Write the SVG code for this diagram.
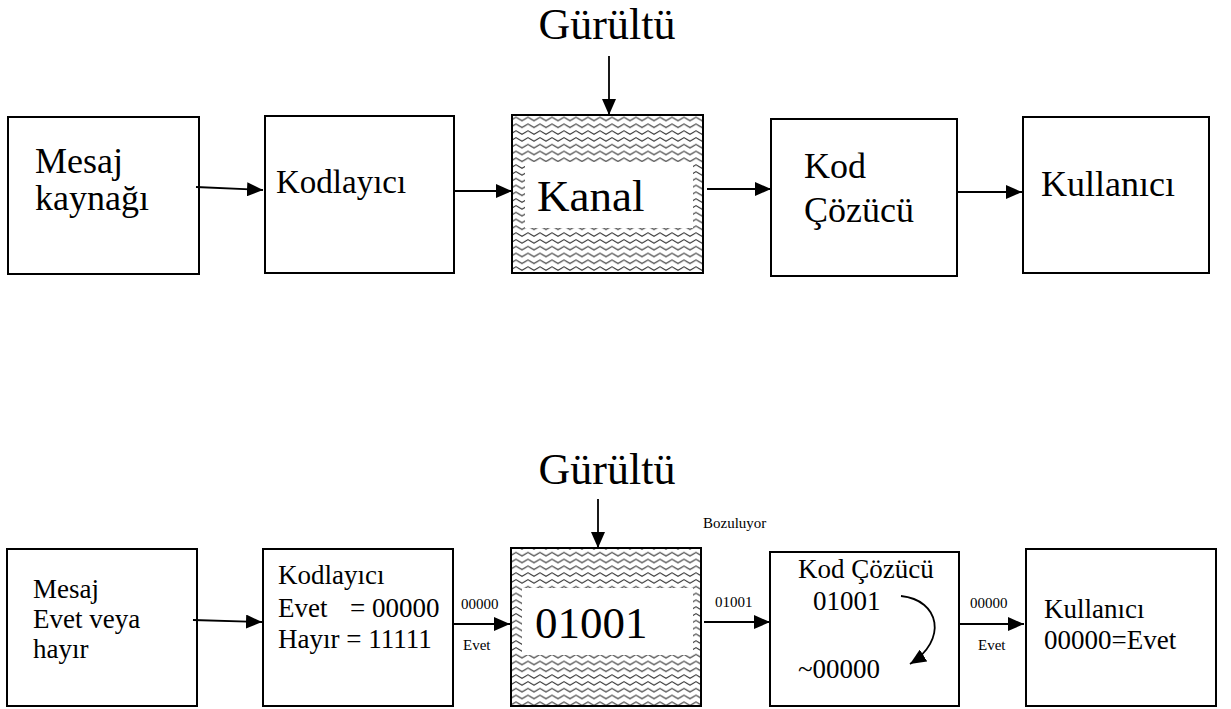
<svg xmlns="http://www.w3.org/2000/svg" width="1231" height="709" viewBox="0 0 1231 709">
<style>
  .box { fill: #fff; stroke: #000; stroke-width: 2; }
  .chan { fill: url(#wave); stroke: #000; stroke-width: 2; }
  .inner { fill: #fff; stroke: none; }
  .big { font-size: 45px; }
  .t36 { font-size: 36px; }
  .t33 { font-size: 33px; }
  .t27 { font-size: 27px; }
  .small { font-size: 15px; }
</style>
<defs>
  <pattern id="wave" patternUnits="userSpaceOnUse" width="12" height="6.8" x="0" y="0">
    <rect width="12" height="6.8" fill="#fff"/>
    <path d="M-3,3.4 L0,1.6 L3,3.4 L6,5.2 L9,3.4 L12,1.6 L15,3.4" fill="none" stroke="#333" stroke-width="1.1" stroke-linejoin="round"/>
  </pattern>
  <marker id="ah" markerUnits="userSpaceOnUse" markerWidth="16" markerHeight="14" refX="16" refY="7" orient="auto">
    <path d="M0,0 L16,7 L0,14 Z" fill="#000"/>
  </marker>
</defs>
<rect width="1231" height="709" fill="#fff"/>

<g font-family="Liberation Serif, Times New Roman, serif" fill="#000">
<g id="label-gurultu-top"><text font-size="44" x="607" y="39" text-anchor="middle">Gürültü</text></g>
<g id="label-gurultu-bottom"><text font-size="44" x="607" y="484" text-anchor="middle">Gürültü</text></g>

<g id="n-mesaj-top">
  <rect class="box" x="8" y="117" width="191" height="157"/>
  <text class="t36" x="35" y="173">Mesaj</text>
  <text class="t36" x="35" y="210">kaynağı</text>
</g>
<g id="n-kodlayici-top">
  <rect class="box" x="265" y="116" width="189" height="157"/>
  <text class="t33" x="276" y="193">Kodlayıcı</text>
</g>
<g id="n-kanal-top">
  <rect class="chan" x="512" y="115" width="191" height="158"/>
  <rect class="inner" x="525" y="162" width="168" height="66"/>
  <text class="big" x="537" y="211">Kanal</text>
</g>
<g id="n-kodcozucu-top">
  <rect class="box" x="771" y="119" width="186" height="157"/>
  <text class="t36" x="804" y="178">Kod</text>
  <text class="t36" x="804" y="222">Çözücü</text>
</g>
<g id="n-kullanici-top">
  <rect class="box" x="1023" y="117" width="186" height="156"/>
  <text class="t36" x="1041" y="196">Kullanıcı</text>
</g>

<g id="n-mesaj-bottom">
  <rect class="box" x="7" y="549" width="190" height="157"/>
  <text class="t27" x="33" y="598">Mesaj</text>
  <text class="t27" x="33" y="628">Evet veya</text>
  <text class="t27" x="33" y="658">hayır</text>
</g>
<g id="n-kodlayici-bottom">
  <rect class="box" x="263" y="549" width="190" height="157"/>
  <text class="t27" x="278" y="584">Kodlayıcı</text>
  <text class="t27" x="278" y="617">Evet<tspan x="350">= 00000</tspan></text>
  <text class="t27" x="278" y="648">Hayır = 11111</text>
</g>
<g id="n-kanal-bottom">
  <rect class="chan" x="511" y="548" width="190" height="158"/>
  <rect class="inner" x="522" y="588" width="171" height="67"/>
  <text class="big" x="535" y="638">01001</text>
</g>
<g id="n-kodcozucu-bottom">
  <rect class="box" x="770" y="552" width="189" height="154"/>
  <text class="t27" x="798" y="578">Kod Çözücü</text>
  <text class="t27" x="813" y="610">01001</text>
  <text class="t27" x="798" y="678">~00000</text>
</g>
<g id="n-kullanici-bottom">
  <rect class="box" x="1026" y="549" width="190" height="157"/>
  <text class="t27" x="1044" y="618">Kullanıcı</text>
  <text class="t27" x="1044" y="649">00000=Evet</text>
</g>

<g id="edge-labels">
  <text class="small" x="461" y="609">00000</text>
  <text class="small" x="463" y="650">Evet</text>
  <text class="small" x="703" y="528">Bozuluyor</text>
  <text class="small" x="715" y="607">01001</text>
  <text class="small" x="970" y="608">00000</text>
  <text class="small" x="978" y="650">Evet</text>
</g>
</g>

<g id="connectors" stroke="#000" stroke-width="1.8" fill="none" marker-end="url(#ah)">
  <line x1="196" y1="187" x2="263" y2="190"/>
  <line x1="455" y1="191" x2="512" y2="191"/>
  <line x1="609" y1="56" x2="609" y2="115"/>
  <line x1="707" y1="189" x2="771" y2="189"/>
  <line x1="958" y1="192" x2="1022" y2="192"/>

  <line x1="193" y1="620" x2="262" y2="622"/>
  <line x1="454" y1="624" x2="510" y2="624"/>
  <line x1="598" y1="499" x2="598" y2="548"/>
  <line x1="704" y1="622" x2="770" y2="622"/>
  <line x1="960" y1="624" x2="1024" y2="624"/>
  <path d="M901,596 C940,600 948,640 910,664"/>
</g>
</svg>
